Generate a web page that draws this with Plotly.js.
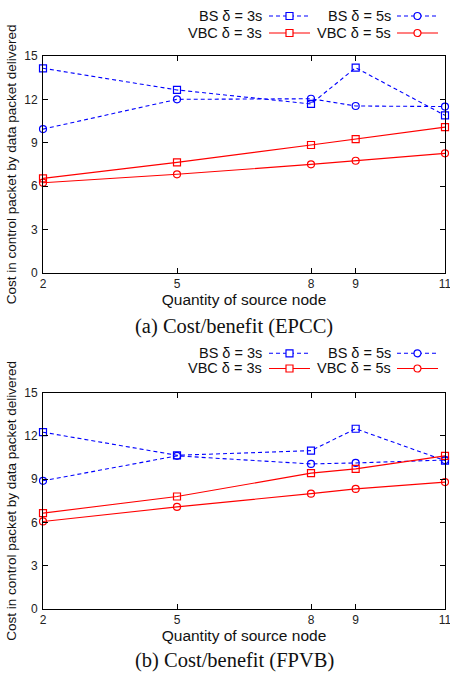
<!DOCTYPE html>
<html><head><meta charset="utf-8">
<script src="https://cdn.plot.ly/plotly-3.0.1.min.js"></script>
<style>body{margin:0;background:#fff}#c{width:450px;height:675px}</style>
</head><body><div id="c"></div>
<script>
const nodes = [2, 5, 8, 9, 11];
const xTicks = [2, 5, 8, 9, 11];
const yTicks = [0, 3, 6, 9, 12, 15];
// Panel (a) EPCC
const epccBS3 = [14.15, 12.65, 11.68, 14.19, 10.89];
const epccBS5 = [9.94, 12.0, 12.04, 11.54, 11.5];
const epccVBC3 = [6.53, 7.64, 8.84, 9.25, 10.08];
const epccVBC5 = [6.23, 6.81, 7.5, 7.75, 8.26];
// Panel (b) FPVB
const fpvbBS3 = [12.26, 10.66, 10.98, 12.5, 10.29];
const fpvbBS5 = [8.89, 10.62, 10.06, 10.13, 10.33];
const fpvbVBC3 = [6.65, 7.8, 9.42, 9.72, 10.62];
const fpvbVBC5 = [6.07, 7.08, 8.0, 8.33, 8.8];
const seriesNames = ['BS δ = 3s', 'BS δ = 5s', 'VBC δ = 3s', 'VBC δ = 5s'];
const captions = ['(a) Cost/benefit (EPCC)', '(b) Cost/benefit (FPVB)'];
const xTitle = 'Quantity of source node';
const yTitle = 'Cost in control packet by data packet delivered';

const BLUE = '#0000ff', RED = '#ff0000';
const styles = [
  {color: BLUE, dash: '4px,3px', symbol: 'square-open'},
  {color: BLUE, dash: '4px,3px', symbol: 'circle-open'},
  {color: RED, dash: 'solid', symbol: 'square-open'},
  {color: RED, dash: 'solid', symbol: 'circle-open'}
];

const W = 450, H = 675, ML = 43, MR = 5, MT = 56, MB = 66;
const PW = W - ML - MR, PH = H - MT - MB;
const px2x = p => (p - ML) / PW;
const px2y = p => (H - MB - p) / PH;

const panels = [[epccBS3, epccBS5, epccVBC3, epccVBC5], [fpvbBS3, fpvbBS5, fpvbVBC3, fpvbVBC5]];
const traces = [];
panels.forEach((set, pi) => {
  set.forEach((ys, si) => {
    const st = styles[si];
    traces.push({
      x: nodes, y: ys, type: 'scatter', mode: 'lines+markers',
      name: seriesNames[si], showlegend: false,
      xaxis: pi === 0 ? 'x' : 'x2', yaxis: pi === 0 ? 'y' : 'y2',
      line: {color: st.color, width: 1.1, dash: st.dash},
      marker: {symbol: st.symbol, size: 7, color: st.color, line: {color: st.color, width: 1.2}},
      cliponaxis: false
    });
  });
});

const axisBase = {
  showline: true, linecolor: '#000', linewidth: 1, mirror: 'ticks',
  ticks: 'inside', ticklen: 5, tickcolor: '#000', tickwidth: 1,
  showgrid: false, zeroline: false, ticklabeloverflow: 'allow',
  tickfont: {family: 'Liberation Sans, Arial, sans-serif', size: 12, color: '#222'}
};
function xa(anchor) {
  return Object.assign({}, axisBase, {
    range: [2, 11], tickmode: 'array', tickvals: xTicks, ticktext: xTicks.map(String),
    anchor: anchor, domain: [0, 1],
    title: {text: xTitle, font: {family: 'Liberation Sans, Arial, sans-serif', size: 15.5, color: '#111'}, standoff: 2}
  });
}
function ya(anchor, dom) {
  return Object.assign({}, axisBase, {
    range: [0, 15], tickmode: 'array', tickvals: yTicks, ticktext: yTicks.map(String),
    anchor: anchor, domain: dom, ticklabelstandoff: 2,
    title: {text: yTitle, font: {family: 'Liberation Sans, Arial, sans-serif', size: 13.5, color: '#111'}, standoff: 4}
  });
}

const annotations = [];
const shapes = [];
// captions
[326, 660].forEach((py, i) => {
  annotations.push({text: captions[i], xref: 'paper', yref: 'paper', x: px2x(234), y: px2y(py),
    xanchor: 'center', yanchor: 'middle', showarrow: false,
    font: {family: 'Liberation Serif, Times New Roman, serif', size: 20.5, color: '#111'}});
});
// legends
const legRows = [[16, 33], [353.3, 368.5]];
const colText = [263, 392];
const colLine = [[269, 310], [397, 438]];
legRows.forEach(rows => {
  seriesNames.forEach((nm, si) => {
    const r = Math.floor(si / 2), c = si % 2;
    const py = rows[r];
    const st = styles[si];
    annotations.push({text: nm, xref: 'paper', yref: 'paper', x: px2x(colText[c]), y: px2y(py),
      xanchor: 'right', yanchor: 'middle', showarrow: false, borderpad: 0,
      font: {family: 'Liberation Sans, Arial, sans-serif', size: 14.5, color: '#111'}});
    shapes.push({type: 'line', xref: 'paper', yref: 'paper',
      x0: px2x(colLine[c][0]), x1: px2x(colLine[c][1]), y0: px2y(py), y1: px2y(py),
      line: {color: st.color, width: 1.1, dash: st.dash}});
    const cx = px2x((colLine[c][0] + colLine[c][1]) / 2), cy = px2y(py);
    shapes.push({type: st.symbol.startsWith('square') ? 'rect' : 'circle',
      xref: 'paper', yref: 'paper', xsizemode: 'pixel', ysizemode: 'pixel',
      xanchor: cx, yanchor: cy, x0: -3.5, x1: 3.5, y0: -3.5, y1: 3.5,
      fillcolor: '#fff', line: {color: st.color, width: 1.2}});
  });
});

const layout = {
  width: W, height: H, margin: {l: ML, r: MR, t: MT, b: MB},
  paper_bgcolor: '#fff', plot_bgcolor: '#fff', showlegend: false,
  xaxis: xa('y'), yaxis: ya('x', [px2y(272.7), 1]),
  xaxis2: xa('y2'), yaxis2: ya('x2', [0, px2y(392.7)]),
  annotations: annotations, shapes: shapes
};
Plotly.newPlot('c', traces, layout, {displayModeBar: false, staticPlot: true});
</script>
</body></html>
